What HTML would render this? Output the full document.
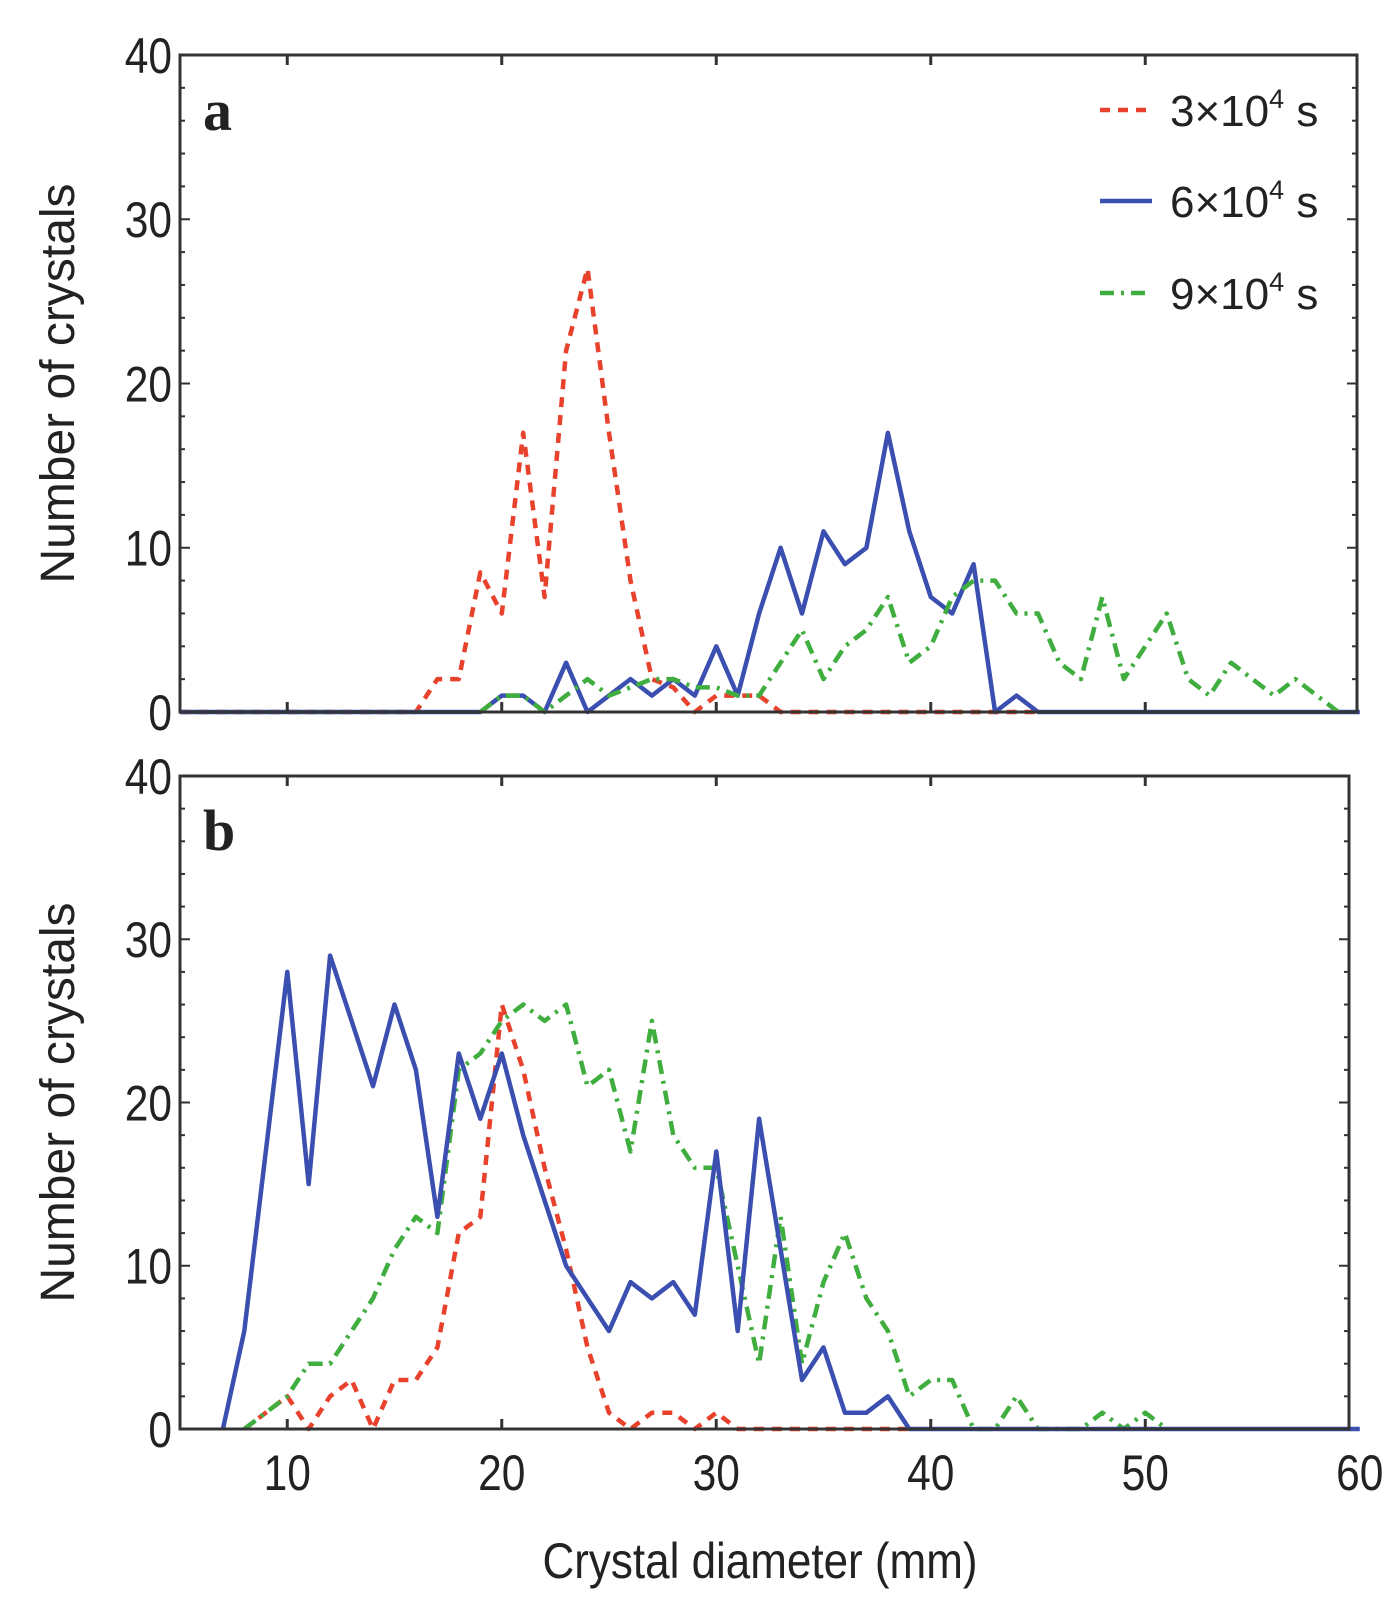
<!DOCTYPE html>
<html><head><meta charset="utf-8"><style>
body{margin:0;background:#fff;}
svg text{font-family:"Liberation Sans",sans-serif;fill:#222;}
</style></head><body>
<svg id="chart" width="1400" height="1607" viewBox="0 0 1400 1607" xmlns="http://www.w3.org/2000/svg"></svg>
<script>
const xTicks=[10,20,30,40,50,60];
const yTicks=[0,10,20,30,40];
const aRedStart=5;
const aRed=[0,0,0,0,0,0,0,0,0,0,0,0,2,2,8.5,6,17,7,22,27,17,8,2,1.5,0,1,1,1,0,0,0,0,0,0,0,0,0,0,0,0,0];
const aBlueStart=5;
const aBlue=[0,0,0,0,0,0,0,0,0,0,0,0,0,0,0,1,1,0,3,0,1,2,1,2,1,4,1,6,10,6,11,9,10,17,11,7,6,9,0,1,0,0,0,0,0,0,0,0,0,0,0,0,0,0,0,0];
const aGreenStart=19;
const aGreen=[0,1,1,0,1,2,1,1.5,2,2,1.5,1.5,1,1,3,5,2,4,5,7,3,4,7,8,8,6,6,3,2,7,2,4,6,2,1,3,2,1,2,1,0];
const bRedStart=8;
const bRed=[0,1,2,0,2,3,0,3,3,5,12,13,26,22,16,11,5,1,0,1,1,0,1,0,0,0,0,0,0,0,0,0];
const bBlueStart=7;
const bBlue=[0,6,17,28,15,29,25,21,26,22,13,23,19,23,18,14,10,8,6,9,8,9,7,17,6,19,11,3,5,1,1,2,0,0,0,0,0,0,0,0,0,0,0,0,0,0,0,0,0,0,0,0,0,0];
const bGreenStart=8;
const bGreen=[0,1,2,4,4,6,8,11,13,12,22,23,25,26,25,26,21,22,17,25,18,16,16,10,4,13,4,9,12,8,6,2,3,3,0,0,2,0,0,0,1,0,1,0];
const legendLabels=["3×10","6×10","9×10"];

const NS="http://www.w3.org/2000/svg";
const svg=document.getElementById('chart');
function mk(tag,attrs,parent){const e=document.createElementNS(NS,tag);for(const k in attrs)e.setAttribute(k,attrs[k]);(parent||svg).appendChild(e);return e;}
const X0=180,XPU=21.45;
function xs(v){return X0+(v-5)*XPU;}
const panels=[
 {name:'panel-a',top:55,bottom:712,right:1357,label:'a',labY:130,series:[[aRed,aRedStart,'#e8412c','10,8','red'],[aBlue,aBlueStart,'#3b4fb0','','blue'],[aGreen,aGreenStart,'#3fae3f','14,7,3,7','green']]},
 {name:'panel-b',top:776,bottom:1429,right:1349,label:'b',labY:850,series:[[bRed,bRedStart,'#e8412c','10,8','red'],[bGreen,bGreenStart,'#3fae3f','14,7,3,7','green'],[bBlue,bBlueStart,'#3b4fb0','','blue']]}
];
panels.forEach((p,pi)=>{
 const g=mk('g',{});
 
 
 const ys=v=>p.bottom-(v/40)*(p.bottom-p.top);
 p.series.forEach(s=>{
  const pts=s[0].map((v,i)=>xs(s[1]+i).toFixed(1)+','+ys(v).toFixed(1)).join(' ');
  const pl=mk('polyline',{points:pts,fill:'none',stroke:s[2],'stroke-width':4.5,'stroke-dasharray':s[3],'stroke-linejoin':'round'},g);
  
  
 });
 const fr=mk('rect',{x:X0,y:p.top,width:p.right-X0,height:p.bottom-p.top,fill:'none',stroke:'#333','stroke-width':3},g);
 
 
 xTicks.forEach(t=>{
  if(xs(t)<p.right-3){
   mk('line',{x1:xs(t),x2:xs(t),y1:p.top,y2:p.top+10,stroke:'#333','stroke-width':3},g);
   mk('line',{x1:xs(t),x2:xs(t),y1:p.bottom,y2:p.bottom-10,stroke:'#333','stroke-width':3},g);
  }
  if(pi===1){
   const tx=mk('text',{x:xs(t),y:1490,'font-size':50,'text-anchor':'middle',transform:'translate('+xs(t)+',0) scale(0.85,1) translate('+(-xs(t))+',0)'},g);
   tx.textContent=t;
   
   
  }
 });
 for(let v=0;v<=40;v+=2){
  const len=v%10===0?10:5;
  mk('line',{x1:X0,x2:X0+len,y1:ys(v),y2:ys(v),stroke:'#333','stroke-width':2},g);
  mk('line',{x1:p.right,x2:p.right-len,y1:ys(v),y2:ys(v),stroke:'#333','stroke-width':2},g);
 }
 yTicks.forEach(t=>{
  const tx=mk('text',{x:172,y:ys(t)+18,'font-size':50,'text-anchor':'end',transform:'translate(172,0) scale(0.85,1) translate(-172,0)'},g);
  tx.textContent=t;
  
  
 });
 const cy=(p.top+p.bottom)/2;
 const yt=mk('text',{x:0,y:0,'font-size':48,'text-anchor':'middle',transform:'translate(74,'+cy+') rotate(-90)'},g);
 yt.textContent='Number of crystals';
 
 
 const lb=mk('text',{x:203,y:p.labY,'font-size':58,'font-weight':'bold',style:'font-family:"Liberation Serif",serif'},g);
 lb.textContent=p.label;
 
 
});
const leg=[[110,'#e8412c','10,8'],[201,'#3b4fb0',''],[293,'#3fae3f','14,7,3,7']];
leg.forEach((l,i)=>{
 const g=mk('g',{});
 
 
 mk('line',{x1:1100,x2:1152,y1:l[0],y2:l[0],stroke:l[1],'stroke-width':4.5,'stroke-dasharray':l[2]},g);
 const t=mk('text',{x:1170,y:l[0]+16,'font-size':44},g);
 t.textContent=legendLabels[i];
 const sup=mk('tspan',{dy:-18,'font-size':27},t);
 sup.textContent='4';
 const s2=mk('tspan',{dy:18,'font-size':44},t);
 s2.textContent=' s';
});
const xt=mk('text',{x:760,y:1578,'font-size':50,'text-anchor':'middle',transform:'translate(760,0) scale(0.88,1) translate(-760,0)'});
xt.textContent='Crystal diameter  (mm)';


</script>
</body></html>
